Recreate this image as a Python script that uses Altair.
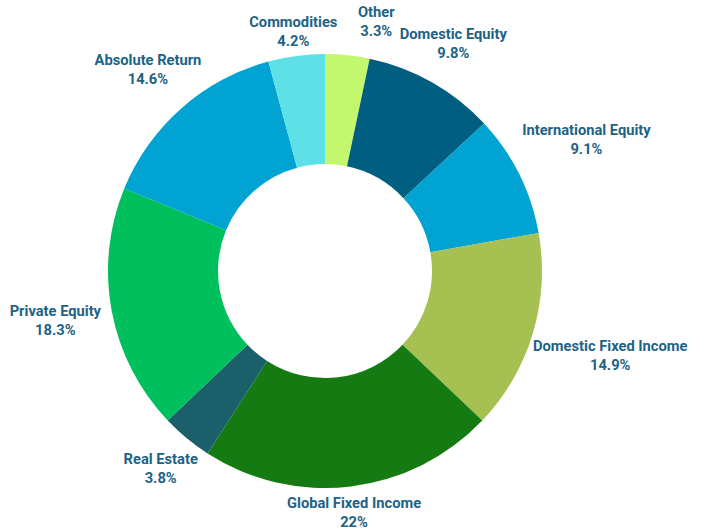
import altair as alt
import pandas as pd

categories = ["Other", "Domestic Equity", "International Equity", "Domestic Fixed Income",
              "Global Fixed Income", "Real Estate", "Private Equity", "Absolute Return", "Commodities"]
values = [3.3, 9.8, 9.1, 14.9, 22, 3.8, 18.3, 14.6, 4.2]
colors = ["#c2f76e", "#005f80", "#00a3d1", "#a6c052", "#167a13", "#1b5f6a", "#00c05d", "#00a3d1", "#5de1e6"]

df = pd.DataFrame({"cat": categories, "value": values, "idx": list(range(len(categories)))})

OUTER = 217
INNER = 107
LINE_H = 19

base = alt.Chart(df)

arcs = base.mark_arc(outerRadius=OUTER, innerRadius=INNER).encode(
    theta=alt.Theta("value:Q", stack=True),
    color=alt.Color("cat:N", scale=alt.Scale(domain=categories, range=colors), legend=None, sort=None),
    order=alt.Order("idx:Q"),
)

labels = base.transform_joinaggregate(
    total="sum(value)"
).transform_window(
    cum="sum(value)", sort=[alt.SortField("idx")], frame=[None, 0]
).transform_calculate(
    mid="2*PI*(datum.cum - datum.value/2)/datum.total",
    label="[datum.cat, datum.value + '%']",
    hw="length(datum.cat)*3.5",
).transform_calculate(
    ang="datum.mid + (datum.cat === 'Other' ? 0.1 : 0)",
).transform_calculate(
    dist=f"{OUTER} + 7 + datum.hw*abs(sin(datum.ang)) + 12*abs(cos(datum.ang)) + (datum.cat === 'Other' ? 14 : 0)",
).mark_text(
    font="Roboto", fontSize=14.7, fontWeight="bold", color="#1d6385",
    lineHeight=LINE_H, align="center", baseline="middle", dy=-LINE_H / 2,
).encode(
    theta=alt.Theta("ang:Q", scale=None),
    radius=alt.Radius("dist:Q", scale=None),
    text=alt.Text("label:N"),
)

chart = alt.layer(arcs, labels).resolve_scale(
    theta="independent", radius="independent"
).properties(
    width=650, height=520,
    autosize="none",
    padding={"left": 0, "top": 11, "right": 57, "bottom": 0},
    background="white",
).configure_view(stroke=None)

chart.save("out.html", embed_options={"renderer": "svg", "actions": False})
